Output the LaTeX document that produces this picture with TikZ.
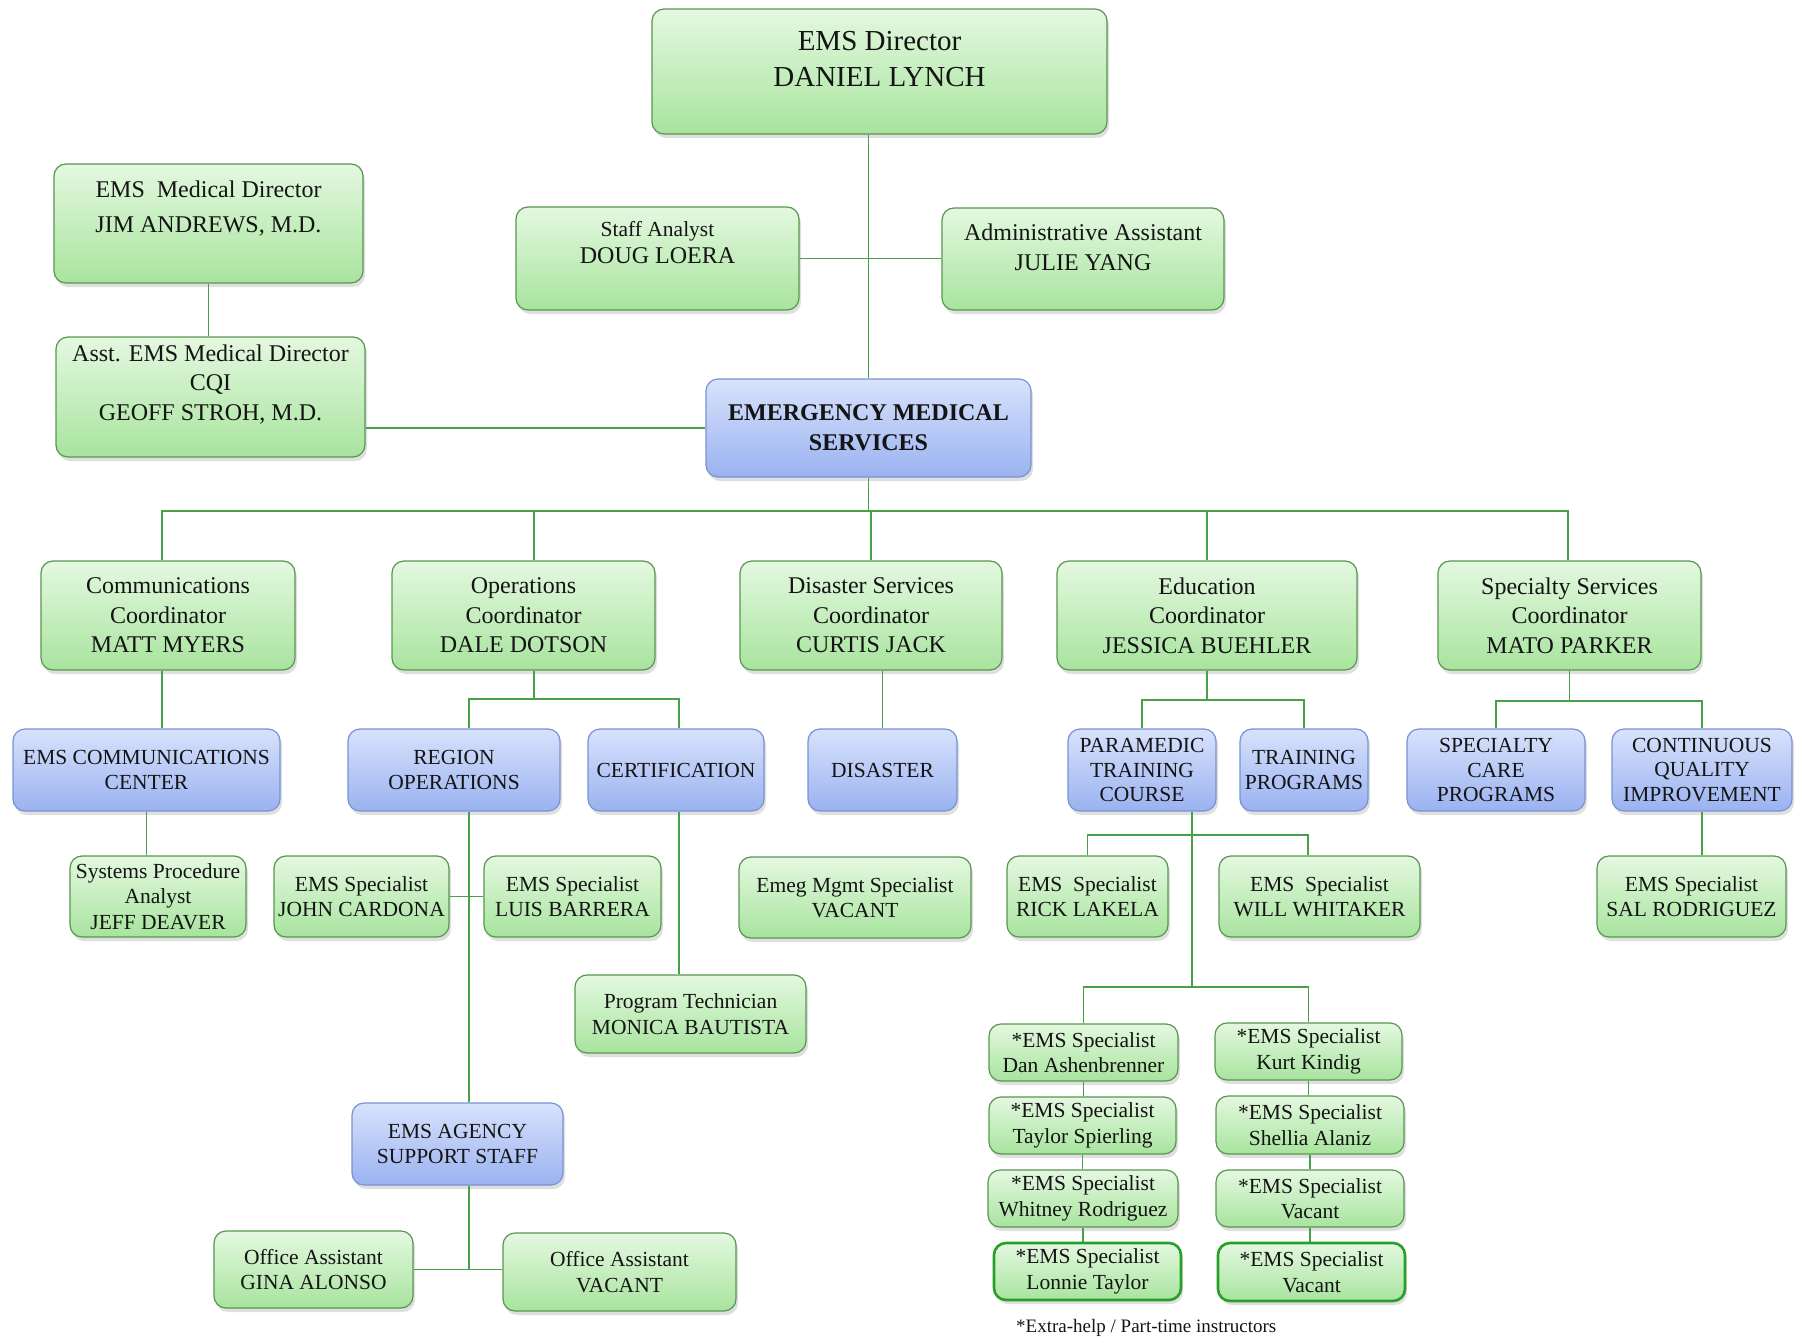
\documentclass[tikz,border=0pt]{standalone}
\usepackage{fontspec}
\setmainfont{Liberation Serif}
\usetikzlibrary{shadows}
\definecolor{gtop}{RGB}{228,248,224}
\definecolor{gbot}{RGB}{168,228,158}
\definecolor{gline}{RGB}{88,150,80}
\definecolor{btop}{RGB}{216,226,252}
\definecolor{bbot}{RGB}{154,178,240}
\definecolor{bline}{RGB}{120,146,210}
\definecolor{cline}{RGB}{72,160,72}
\definecolor{tline}{RGB}{40,160,40}
\definecolor{ink}{RGB}{20,20,20}
\begin{document}
\begin{tikzpicture}[x=1pt,y=-1pt,
 box/.style={rounded corners=12pt, line width=1.2pt, inner sep=3pt, align=center, text=ink,
   drop shadow={opacity=0.25, shadow xshift=2pt, shadow yshift=-4pt}},
 greenbox/.style={box, draw=gline, top color=gtop, bottom color=gbot},
 bluebox/.style={box, draw=bline, top color=btop, bottom color=bbot},
 thickbox/.style={greenbox, draw=tline, line width=2.6pt},
 fbig/.style={font=\fontsize{24}{29.5}\selectfont},
 fmid/.style={font=\fontsize{21.5}{25.5}\selectfont},
 fthree/.style={font=\fontsize{21.5}{24.7}\selectfont},
 lbl/.style={align=center, text=ink, inner sep=0pt},
 conn/.style={draw=cline, line width=1.6pt},
 sz/.style 2 args={minimum width=#1pt, minimum height=#2pt},
]
\useasboundingbox (0,0) rectangle (1802,1343);
\fill[white] (0,0) rectangle (1802,1343);

% top level
\node[greenbox, sz={455}{125}, label={[lbl,font=\fontsize{29}{36}\selectfont,yshift=12.5pt]center:{EMS Director\\DANIEL LYNCH}}] (dir) at (879.5,71.5) {};
\node[greenbox, sz={309}{119}, label={[lbl,font=\fontsize{24}{35}\selectfont,yshift=15pt]center:{EMS~ Medical Director\\JIM ANDREWS, M.D.}}] (med) at (208.5,223.5) {};
\node[greenbox, sz={283}{103}, label={[lbl,font=\fontsize{24}{27}\selectfont,yshift=16pt]center:{{\fontsize{21.5}{27}\selectfont Staff Analyst}\\DOUG LOERA}}] (staff) at (657.5,258.5) {};
\node[greenbox, sz={282}{102}, label={[lbl,font=\fontsize{24}{30}\selectfont,yshift=12pt]center:{Administrative Assistant\\JULIE YANG}}] (admin) at (1083,259) {};
\node[greenbox, sz={309}{120}, label={[lbl,font=\fontsize{24}{29.5}\selectfont,yshift=12.5pt]center:{Asst. EMS Medical Director\\CQI\\GEOFF STROH, M.D.}}] (asst) at (210.5,397) {};
\node[bluebox, sz={325}{98}, font=\bfseries\fontsize{24}{30}\selectfont] (ems) at (868.5,428) {EMERGENCY MEDICAL\\SERVICES};

% coordinators
\node[greenbox, sz={254}{109}, fbig] (comm) at (168,615.5) {Communications\\Coordinator\\MATT MYERS};
\node[greenbox, sz={263}{109}, fbig] (ops) at (523.5,615.5) {Operations\\Coordinator\\DALE DOTSON};
\node[greenbox, sz={262}{109}, fbig] (dis) at (871,615.5) {Disaster Services\\Coordinator\\CURTIS JACK};
\node[greenbox, sz={300}{109}, fbig] (edu) at (1207,615.5) {Education\\Coordinator\\JESSICA BUEHLER};
\node[greenbox, sz={263}{109}, fbig] (spec) at (1569.5,615.5) {Specialty Services\\Coordinator\\MATO PARKER};

% units
\node[bluebox, sz={267}{82}, fmid] (commc) at (146.5,770) {EMS COMMUNICATIONS\\CENTER};
\node[bluebox, sz={212}{82}, fmid] (region) at (454,770) {REGION\\OPERATIONS};
\node[bluebox, sz={176}{82}, fmid] (cert) at (676,770) {CERTIFICATION};
\node[bluebox, sz={149}{82}, fmid] (disaster) at (882.5,770) {DISASTER};
\node[bluebox, sz={148}{82}, fthree] (para) at (1142,770) {PARAMEDIC\\TRAINING\\COURSE};
\node[bluebox, sz={128}{82}, fmid] (train) at (1304,770) {TRAINING\\PROGRAMS};
\node[bluebox, sz={178}{82}, fthree] (scare) at (1496,770) {SPECIALTY\\CARE\\PROGRAMS};
\node[bluebox, sz={180}{82}, fthree] (cqi) at (1702,770) {CONTINUOUS\\QUALITY\\IMPROVEMENT};

% staff level
\node[greenbox, sz={176}{81}, fmid] (spa) at (158,896.5) {Systems Procedure\\Analyst\\JEFF DEAVER};
\node[greenbox, sz={175}{81}, fmid] (john) at (361.5,896.5) {EMS Specialist\\JOHN CARDONA};
\node[greenbox, sz={177}{81}, fmid] (luis) at (572.5,896.5) {EMS Specialist\\LUIS BARRERA};
\node[greenbox, sz={232}{81}, fmid] (emeg) at (855,897.5) {Emeg Mgmt Specialist\\VACANT};
\node[greenbox, sz={161}{81}, fmid] (rick) at (1087.5,896.5) {EMS~ Specialist\\RICK LAKELA};
\node[greenbox, sz={201}{81}, fmid] (will) at (1319.5,896.5) {EMS~ Specialist\\WILL WHITAKER};
\node[greenbox, sz={189}{81}, fmid] (sal) at (1691.5,896.5) {EMS Specialist\\SAL RODRIGUEZ};
\node[greenbox, sz={231}{78}, fmid] (prog) at (690.5,1014) {Program Technician\\MONICA BAUTISTA};
\node[bluebox, sz={211}{82}, fmid] (agency) at (457.5,1144) {EMS AGENCY\\SUPPORT STAFF};
\node[greenbox, sz={199}{77}, fmid] (gina) at (313.5,1269.5) {Office Assistant\\GINA ALONSO};
\node[greenbox, sz={233}{78}, fmid] (oavac) at (619.5,1272) {Office Assistant\\VACANT};

% extra-help
\node[greenbox, sz={189}{57}, fmid] (dan) at (1083.5,1052.5) {*EMS Specialist\\Dan Ashenbrenner};
\node[greenbox, sz={187}{57}, fmid] (taylor) at (1082.5,1125.5) {*EMS Specialist\\Taylor Spierling};
\node[greenbox, sz={190}{57}, fmid] (whitney) at (1083,1198.5) {*EMS Specialist\\Whitney Rodriguez};
\node[thickbox, sz={187}{57}, fmid] (lonnie) at (1087.5,1271.5) {*EMS Specialist\\Lonnie Taylor};
\node[greenbox, sz={187}{57}, fmid] (kurt) at (1308.5,1051.5) {*EMS Specialist\\Kurt Kindig};
\node[greenbox, sz={188}{58}, fmid] (shellia) at (1310,1125) {*EMS Specialist\\Shellia Alaniz};
\node[greenbox, sz={188}{57}, fmid] (vaca) at (1310,1198.5) {*EMS Specialist\\Vacant};
\node[thickbox, sz={187}{58}, fmid] (vacb) at (1311.5,1272) {*EMS Specialist\\Vacant};

\node[anchor=west, font=\fontsize{19}{22}\selectfont, text=ink, inner sep=0pt] (note) at (1016,1328) {*Extra-help / Part-time instructors};

% bus coordinates
\coordinate (bus1) at (0,511);
\coordinate (bus2) at (0,699);
\coordinate (bus3) at (0,700);
\coordinate (bus4) at (0,835);
\coordinate (bus5) at (0,987);
\coordinate (bus6) at (0,701);

% connectors
\draw[conn] (ems.north |- dir.south) -- (ems.north);
\draw[conn] (staff.east) -- (staff.east -| admin.west);
\draw[conn] (med.south) -- (med.south |- asst.north);
\draw[conn] (ems.west -| asst.east) -- (ems.west);
\draw[conn] (ems.south) -- (ems.south |- bus1);
\draw[conn] ([xshift=-6pt]comm.north) -- ([xshift=-6pt]comm.north |- bus1) -- ([xshift=-1.5pt]spec.north |- bus1) -- ([xshift=-1.5pt]spec.north);
\draw[conn] ([xshift=10.5pt]ops.north) -- ([xshift=10.5pt]ops.north |- bus1);
\draw[conn] (dis.north) -- (dis.north |- bus1);
\draw[conn] (edu.north) -- (edu.north |- bus1);

\draw[conn] ([xshift=-6pt]comm.south) -- ([xshift=-6pt]comm.south |- commc.north);
\draw[conn] (commc.south) -- (commc.south |- spa.north);

\draw[conn] ([xshift=10.5pt]ops.south) -- ([xshift=10.5pt]ops.south |- bus2);
\draw[conn] ([xshift=15pt]region.north) -- ([xshift=15pt]region.north |- bus2) -- ([xshift=3pt]cert.north |- bus2) -- ([xshift=3pt]cert.north);
\draw[conn] ([xshift=15pt]region.south) -- ([xshift=15pt]region.south |- agency.north);
\draw[conn] (john.east) -- (john.east -| luis.west);
\draw[conn] ([xshift=3pt]cert.south) -- ([xshift=3pt]cert.south |- prog.north);

\draw[conn] (disaster.north |- dis.south) -- (disaster.north);

\draw[conn] (edu.south) -- (edu.south |- bus3);
\draw[conn] (para.north) -- (para.north |- bus3) -- (train.north |- bus3) -- (train.north);
\draw[conn] ([xshift=50pt]para.south) -- ([xshift=50pt]para.south |- bus5);
\draw[conn] (rick.north) -- (rick.north |- bus4) -- ([xshift=-11.5pt]will.north |- bus4) -- ([xshift=-11.5pt]will.north);
\draw[conn] (dan.north) -- (dan.north |- bus5) -- (kurt.north |- bus5) -- (kurt.north);
\draw[conn] (dan.south) -- (dan.south |- taylor.north);
\draw[conn] (taylor.south) -- (taylor.south |- whitney.north);
\draw[conn] (whitney.south) -- (whitney.south |- lonnie.north);
\draw[conn] (kurt.south) -- (kurt.south |- shellia.north);
\draw[conn] (shellia.south) -- (shellia.south |- vaca.north);
\draw[conn] (vaca.south) -- (vaca.south |- vacb.north);

\draw[conn] (spec.south) -- (spec.south |- bus6);
\draw[conn] (scare.north) -- (scare.north |- bus6) -- (cqi.north |- bus6) -- (cqi.north);
\draw[conn] (cqi.south) -- (cqi.south |- sal.north);

\draw[conn] ([xshift=11.5pt]agency.south) -- ([xshift=11.5pt]agency.south |- gina.east);
\draw[conn] (gina.east) -- (gina.east -| oavac.west);
\end{tikzpicture}
\end{document}
